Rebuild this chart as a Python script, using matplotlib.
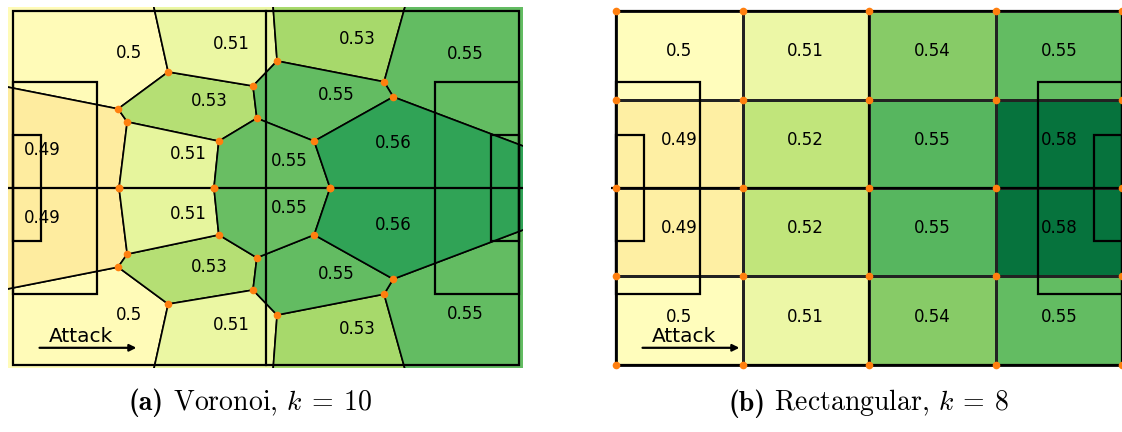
import matplotlib
matplotlib.use('Agg')
import matplotlib.pyplot as plt
import numpy as np
from matplotlib.patches import Polygon, Rectangle
from matplotlib.colors import Normalize
from matplotlib.offsetbox import TextArea, HPacker, AnnotationBbox

plt.rcParams['mathtext.fontset'] = 'cm'

# pitch size in metres (y measured down from the top touchline)
PITCH_L = 105.0
PITCH_W = 68.0

# ---- (a) Voronoi partition, upper half (lower half is its mirror image) ----
# points 0..12 are the partition vertices, 13..21 are far-away boundary points
vor_px = [21.8, 23.7, 32.2, 49.8, 54.8, 50.6, 42.7, 22.0, 41.7, 77.0, 78.9, 62.5, 65.8,
          -5.0, -5.0, 28.7, 53.8, 82.0, 110.0, 110.0, 110.0, -5.0]
vor_py = [18.8, 21.3, 11.7, 14.4, 9.6, 20.6, 25.0, 34.0, 34.0, 13.6, 16.5, 25.0, 34.0,
          13.9, -3.0, -3.0, -3.0, -3.0, -3.0, 27.4, 34.0, 34.0]
n_vertices = 13

vor_cells = [
    [14, 15, 2, 0, 13],
    [13, 0, 1, 7, 21],
    [0, 2, 3, 5, 6, 1],
    [15, 16, 4, 3, 2],
    [1, 6, 8, 7],
    [16, 17, 9, 4],
    [17, 18, 19, 10, 9],
    [4, 9, 10, 11, 5, 3],
    [5, 11, 12, 8, 6],
    [10, 19, 20, 12, 11],
]
vor_values = [0.498, 0.490, 0.528, 0.509, 0.511, 0.533, 0.550, 0.550, 0.549, 0.561]
vor_seed_x = [24.1, 6.0, 40.7, 45.2, 36.3, 71.4, 93.8, 67.0, 57.3, 78.9]
vor_seed_y = [8.9, 27.4, 18.1, 7.0, 28.3, 6.1, 9.1, 16.8, 29.5, 26.2]

# ---- (b) rectangular grid 4 x 4 ----
grid_x = [0.0, 26.25, 52.5, 78.75, 105.0]
grid_y = [0.0, 17.0, 34.0, 51.0, 68.0]
grid_values = np.array([
    [0.499, 0.508, 0.541, 0.550],
    [0.491, 0.524, 0.553, 0.579],
    [0.491, 0.524, 0.553, 0.579],
    [0.499, 0.508, 0.541, 0.550],
])

cap_tags = ['(a)', '(b)']
cap_texts = [r' Voronoi, $k\:=\:10$', r' Rectangular, $k\:=\:8$']
cap_x = [250, 869]

cmap = plt.get_cmap('RdYlGn')
norm = Normalize(vmin=0.417, vmax=0.583)
DOT = '#ff7f0e'
label_dy = -0.75


def fmt(v):
    return '{:g}'.format(round(v, 2))


def draw_pitch(ax):
    lw = 1.6
    ax.add_patch(Rectangle((0, 0), PITCH_L, PITCH_W, fill=False, ec='black', lw=lw, zorder=3))
    ax.plot([PITCH_L / 2, PITCH_L / 2], [0, PITCH_W], color='black', lw=lw, zorder=3)
    ax.plot([-5, PITCH_L + 5], [PITCH_W / 2, PITCH_W / 2], color='black', lw=lw, zorder=3)
    # penalty boxes and goal areas
    for depth, half in [(17.4, 20.4), (5.8, 10.2)]:
        ax.add_patch(Rectangle((0, PITCH_W / 2 - half), depth, 2 * half,
                               fill=False, ec='black', lw=lw, zorder=3))
        ax.add_patch(Rectangle((PITCH_L - depth, PITCH_W / 2 - half), depth, 2 * half,
                               fill=False, ec='black', lw=lw, zorder=3))
    ax.annotate('', xy=(25.6, 64.7), xytext=(5.5, 64.7),
                arrowprops=dict(arrowstyle='-|>', color='black', lw=1.6,
                                mutation_scale=10, shrinkA=0, shrinkB=0), zorder=4)
    ax.text(14.2, 62.5, 'Attack', fontsize=14.5, ha='center', va='center', zorder=4)


def setup(ax):
    ax.set_xlim(-1.04, 105.83)
    ax.set_ylim(68.58, -0.77)
    ax.axis('off')


fig = plt.figure(figsize=(11.22, 4.32), dpi=100)
W, H = 1122.0, 432.0
ax1 = fig.add_axes([8 / W, 1 - 368 / H, 515 / W, 361 / H])
ax2 = fig.add_axes([611 / W, 1 - 368 / H, 515 / W, 361 / H])

# --- Voronoi panel ---
px = np.array(vor_px)
py = np.array(vor_py)
for mirror in [False, True]:
    yy = PITCH_W - py if mirror else py
    for cell, v, sx, sy in zip(vor_cells, vor_values, vor_seed_x, vor_seed_y):
        pts = np.column_stack([px[cell], yy[cell]])
        ax1.add_patch(Polygon(pts, closed=True, fc=cmap(norm(v)), ec='black', lw=1.2, zorder=1))
        ty = PITCH_W - sy if mirror else sy
        ax1.text(sx, ty + label_dy, fmt(v), fontsize=12, ha='center', va='center', zorder=5)
    ax1.plot(px[:n_vertices], yy[:n_vertices], 'o', color=DOT, ms=5.5, mec='none', zorder=6)
draw_pitch(ax1)
setup(ax1)

# --- rectangular panel ---
ax2.pcolormesh(grid_x, grid_y, grid_values, cmap=cmap, norm=norm,
               edgecolors='#222222', linewidth=0.9, zorder=1)
cx = (np.array(grid_x[:-1]) + np.array(grid_x[1:])) / 2
cy = (np.array(grid_y[:-1]) + np.array(grid_y[1:])) / 2
for i, yv in enumerate(cy):
    for j, xv in enumerate(cx):
        ax2.text(xv, yv + label_dy, fmt(grid_values[i, j]), fontsize=12,
                 ha='center', va='center', zorder=5)
gx, gy = np.meshgrid(grid_x, grid_y)
draw_pitch(ax2)
ax2.plot(gx.ravel(), gy.ravel(), 'o', color=DOT, ms=5.5, mec='none', zorder=6, clip_on=False)
setup(ax2)

# captions: bold tag followed by roman text
for tag, txt, xc in zip(cap_tags, cap_texts, cap_x):
    box = HPacker(children=[TextArea(tag, textprops=dict(family='cmb10', fontsize=20)),
                            TextArea(txt, textprops=dict(family='cmr10', fontsize=20))],
                  align='baseline', pad=0, sep=0)
    ab = AnnotationBbox(box, (xc / W, 1 - 403 / H), xycoords='figure fraction',
                        box_alignment=(0.5, 0.5), frameon=False)
    fig.add_artist(ab)

fig.savefig('out.png', dpi=100)
